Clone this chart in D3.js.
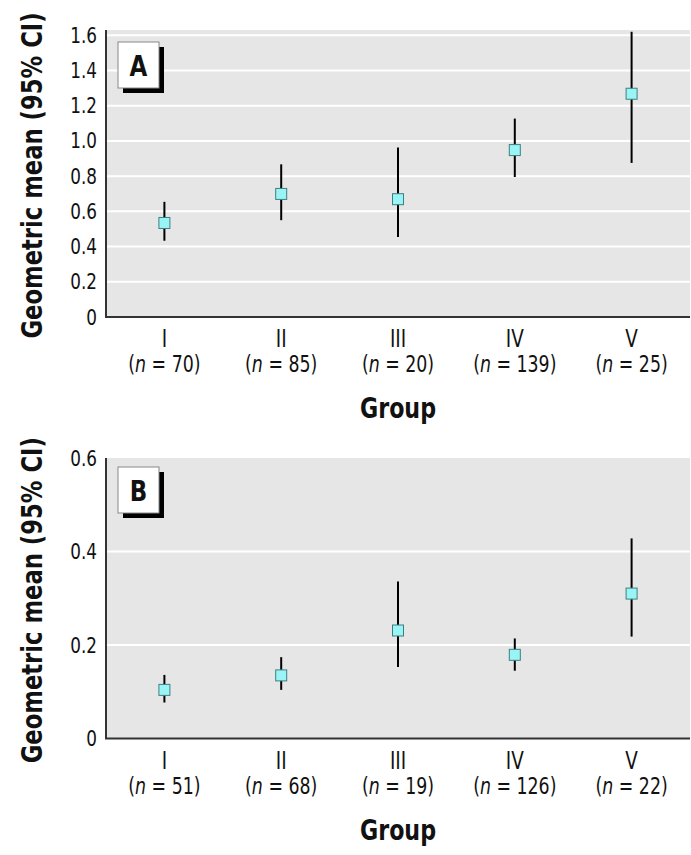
<!DOCTYPE html>
<html>
<head>
<meta charset="utf-8">
<script src="https://cdn.jsdelivr.net/npm/d3@7"></script>
<style>
  html, body { margin: 0; padding: 0; background: #fff; }
  svg text { font-family: "Liberation Sans Narrow", "DejaVu Sans Condensed", "Arial Narrow", sans-serif; fill: #111; }
</style>
</head>
<body>
<svg id="chart" width="691" height="855"></svg>
<script>
// ---- data ----
const groups = ["I", "II", "III", "IV", "V"];

const nA    = [70, 85, 20, 139, 25];
const meanA = [0.534, 0.699, 0.669, 0.948, 1.268];
const lowA  = [0.433, 0.550, 0.455, 0.795, 0.875];
const highA = [0.654, 0.867, 0.962, 1.127, 1.620];
const ticksA = [0, 0.2, 0.4, 0.6, 0.8, 1.0, 1.2, 1.4, 1.6];

const nB    = [51, 68, 19, 126, 22];
const meanB = [0.104, 0.135, 0.231, 0.179, 0.310];
const lowB  = [0.077, 0.104, 0.153, 0.145, 0.218];
const highB = [0.136, 0.174, 0.336, 0.214, 0.428];
const ticksB = [0, 0.2, 0.4, 0.6];

const panelLabels = ["A", "B"];
const yTitle = "Geometric mean (95% CI)";
const xTitle = "Group";

// ---- layout ----
const svg = d3.select("#chart");
const left = 106, right = 690;
const FONT = '"Liberation Sans Narrow", "DejaVu Sans Condensed", sans-serif';

const panels = [
  { label: panelLabels[0], top: 30, bottom: 317, ymax: 1.63, ticks: ticksA, n: nA, mean: meanA, low: lowA, high: highA },
  { label: panelLabels[1], top: 458, bottom: 738.5, ymax: 0.6, ticks: ticksB, n: nB, mean: meanB, low: lowB, high: highB }
];

const fmt = v => v === 0 ? "0" : d3.format(".1f")(v);

panels.forEach(p => {
  const x = d3.scaleBand().domain(groups).range([left, right]).padding(0);
  const y = d3.scaleLinear().domain([0, p.ymax]).range([p.bottom, p.top]);
  const cx = d => x(d) + x.bandwidth() / 2;
  const g = svg.append("g");

  // background
  g.append("rect")
    .attr("x", left).attr("y", p.top)
    .attr("width", right - left).attr("height", p.bottom - p.top)
    .attr("fill", "#e6e6e6");

  // gridlines
  g.selectAll("line.grid")
    .data(p.ticks.filter(v => v > 0 && y(v) > p.top + 1))
    .join("line")
    .attr("class", "grid")
    .attr("x1", left).attr("x2", right)
    .attr("y1", d => y(d)).attr("y2", d => y(d))
    .attr("stroke", "#ffffff").attr("stroke-width", 2);

  // y axis labels (condensed via horizontal scale)
  const fy = 0.85, pad = 9;
  const ya = g.append("g")
    .attr("transform", `translate(${left},0)`)
    .call(d3.axisLeft(y).tickValues(p.ticks).tickFormat(fmt).tickSize(0).tickPadding(pad));
  ya.select(".domain").remove();
  ya.selectAll("text")
    .style("font-size", "22px").style("font-family", FONT).attr("fill", "#111")
    .attr("x", -pad / fy).attr("transform", `scale(${fy},1)`);

  // x axis roman numerals
  const fx = 0.85;
  const xa = g.append("g")
    .attr("transform", `translate(0,${p.bottom})`)
    .call(d3.axisBottom(x).tickSize(0).tickPadding(13));
  xa.select(".domain").remove();
  xa.selectAll("text")
    .style("font-size", "24px").style("font-family", FONT).attr("fill", "#111")
    .attr("transform", `scale(${fx},1)`);

  // n labels
  const nl = g.selectAll("text.nlab")
    .data(groups.map((d, i) => ({ g: d, n: p.n[i] })))
    .join("text")
    .attr("class", "nlab")
    .attr("transform", d => `translate(${cx(d.g)},${p.bottom + 55}) scale(0.84,1)`)
    .attr("text-anchor", "middle")
    .style("font-size", "23px");
  nl.append("tspan").text("(");
  nl.append("tspan").attr("font-style", "italic").text("n");
  nl.append("tspan").text(d => " = " + d.n + ")");

  // axis lines
  g.append("line")
    .attr("x1", left).attr("x2", left)
    .attr("y1", p.top).attr("y2", p.bottom)
    .attr("stroke", "#333").attr("stroke-width", 2);
  g.append("line")
    .attr("x1", left - 1).attr("x2", right)
    .attr("y1", p.bottom).attr("y2", p.bottom)
    .attr("stroke", "#333").attr("stroke-width", 2);

  // error bars
  const pts = groups.map((d, i) => ({ g: d, m: p.mean[i], lo: p.low[i], hi: p.high[i] }));
  g.selectAll("line.err")
    .data(pts)
    .join("line")
    .attr("class", "err")
    .attr("x1", d => cx(d.g)).attr("x2", d => cx(d.g))
    .attr("y1", d => y(d.lo)).attr("y2", d => y(d.hi))
    .attr("stroke", "#000").attr("stroke-width", 2);

  // markers
  const s = 11;
  g.selectAll("rect.mk")
    .data(pts)
    .join("rect")
    .attr("class", "mk")
    .attr("x", d => cx(d.g) - s / 2)
    .attr("y", d => y(d.m) - s / 2)
    .attr("width", s).attr("height", s)
    .attr("fill", "#99f4f6").attr("stroke", "#3f7f80").attr("stroke-width", 1);

  // panel label box
  const bx = 118, by = p.top + (p.label === "A" ? 12 : 9), bw = 41, bh = 46;
  g.append("rect").attr("x", bx + 5).attr("y", by + 5).attr("width", bw).attr("height", bh).attr("fill", "#000");
  g.append("rect").attr("x", bx).attr("y", by).attr("width", bw).attr("height", bh)
    .attr("fill", "#fff").attr("stroke", "#888").attr("stroke-width", 1);
  g.append("text")
    .attr("transform", `translate(${bx + bw / 2},${by + 34}) scale(0.88,1)`)
    .attr("text-anchor", "middle")
    .style("font-size", "29px").style("font-weight", "bold")
    .text(p.label);

  // y title (rotated; scale along text direction)
  g.append("text")
    .attr("transform", `translate(42,${(p.top + p.bottom) / 2 + 2}) rotate(-90) scale(0.87,1)`)
    .attr("text-anchor", "middle")
    .style("font-size", "29px").style("font-weight", "bold")
    .text(yTitle);

  // x title
  g.append("text")
    .attr("transform", `translate(${(left + right) / 2},${p.bottom + 101}) scale(0.88,1)`)
    .attr("text-anchor", "middle")
    .style("font-size", "28px").style("font-weight", "bold")
    .text(xTitle);
});
</script>
</body>
</html>
